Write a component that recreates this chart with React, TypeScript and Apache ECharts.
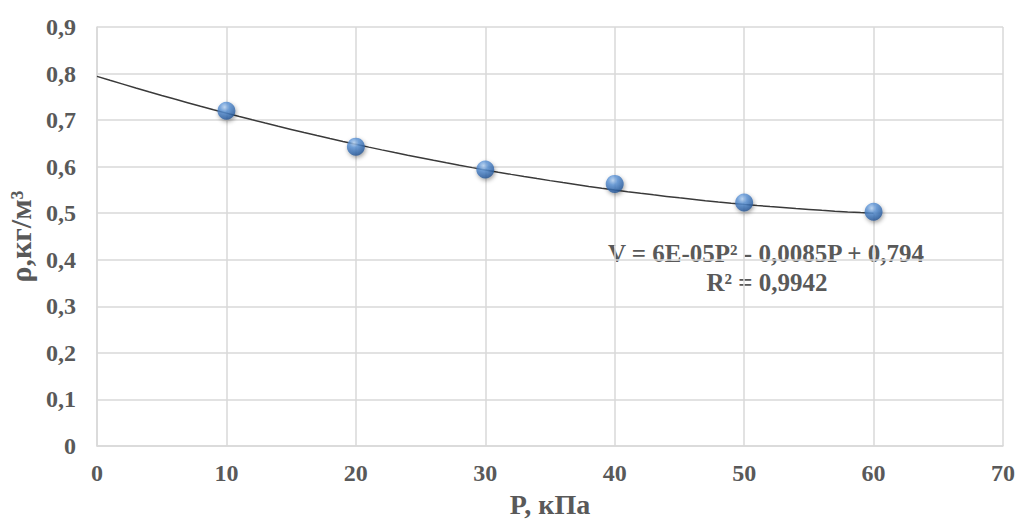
import React, { useEffect, useRef } from "react";
import * as echarts from "echarts";

const pressures = [10, 20, 30, 40, 50, 60];
const densities = [0.72, 0.643, 0.594, 0.563, 0.523, 0.503];
// Excel trendline shown on chart: V = 6E-05P² - 0,0085P + 0,794
const trendCoefficients = [0.794, -0.0085, 0.00006];
const trendRange = [0, 60];
const equationLines = ["V = 6E-05P² - 0,0085P + 0,794", "R² = 0,9942"];
const xAxisTitle = "P, кПа";
const yAxisTitle = "ρ,кг/м³";

const FONT = "'Liberation Serif', 'Times New Roman', serif";
const GREY = "#595959";

function buildTrend(): number[][] {
  const pts: number[][] = [];
  for (let p = trendRange[0]; p <= trendRange[1]; p += 1) {
    const v = trendCoefficients[0] + trendCoefficients[1] * p + trendCoefficients[2] * p * p;
    pts.push([p, v]);
  }
  return pts;
}

export default function App() {
  const ref = useRef<HTMLDivElement>(null);
  useEffect(() => {
    if (!ref.current) return;
    const chart = echarts.init(ref.current, undefined, { renderer: "svg" });
    const fmt = (v: number) => (v === 0 ? "0" : v.toFixed(1).replace(".", ","));
    chart.setOption({
      animation: false,
      backgroundColor: "#ffffff",
      grid: { left: 97, right: 15, top: 27, bottom: 74, containLabel: false, outerBoundsMode: "none" },
      xAxis: {
        type: "value",
        min: 0,
        max: 70,
        interval: 10,
        axisLine: { show: true, lineStyle: { color: "#d9d9d9", width: 1.5 } },
        axisTick: { show: false },
        splitLine: { show: true, lineStyle: { color: "#d9d9d9", width: 1.5 } },
        axisLabel: { color: GREY, fontFamily: FONT, fontWeight: "bold", fontSize: 24, margin: 15 },
        name: xAxisTitle,
        nameLocation: "middle",
        nameGap: 44,
        nameTextStyle: { color: GREY, fontFamily: FONT, fontWeight: "bold", fontSize: 28 },
      },
      yAxis: {
        type: "value",
        min: 0,
        max: 0.9,
        interval: 0.1,
        axisLine: { show: true, lineStyle: { color: "#d9d9d9", width: 1.5 } },
        axisTick: { show: false },
        splitLine: { show: true, lineStyle: { color: "#d9d9d9", width: 1.5 } },
        axisLabel: { color: GREY, fontFamily: FONT, fontWeight: "bold", fontSize: 24, margin: 21, formatter: fmt },
        name: yAxisTitle,
        nameLocation: "middle",
        nameGap: 60,
        nameRotate: 90,
        nameTextStyle: { color: GREY, fontFamily: FONT, fontWeight: "bold", fontSize: 30 },
      },
      series: [
        {
          type: "line",
          data: buildTrend(),
          showSymbol: false,
          symbol: "none",
          lineStyle: { color: "#3a3a3a", width: 1.5 },
          z: 2,
        },
        {
          type: "scatter",
          data: pressures.map((p, i) => [p, densities[i]]),
          symbolSize: 18,
          itemStyle: {
            color: {
              type: "radial",
              x: 0.4,
              y: 0.3,
              r: 0.75,
              colorStops: [
                { offset: 0, color: "#b9d5f5" },
                { offset: 0.35, color: "#5b93d6" },
                { offset: 0.8, color: "#2f64a8" },
                { offset: 1, color: "#1f4a82" },
              ],
            },
            shadowBlur: 4,
            shadowOffsetX: 1,
            shadowOffsetY: 2,
            shadowColor: "rgba(0,0,0,0.45)",
          },
          z: 3,
        },
      ],
      graphic: [
        {
          type: "text",
          x: 766,
          y: 253,
          style: {
            text: equationLines[0],
            fill: GREY,
            font: `bold 25px ${FONT}`,
            textAlign: "center",
            textVerticalAlign: "middle",
          },
        },
        {
          type: "text",
          x: 767,
          y: 282,
          style: {
            text: equationLines[1],
            fill: GREY,
            font: `bold 25px ${FONT}`,
            textAlign: "center",
            textVerticalAlign: "middle",
          },
        },
      ],
    });
    return () => chart.dispose();
  }, []);
  return <div ref={ref} style={{ width: 1018, height: 520, position: "absolute", left: 0, top: 0 }} />;
}
